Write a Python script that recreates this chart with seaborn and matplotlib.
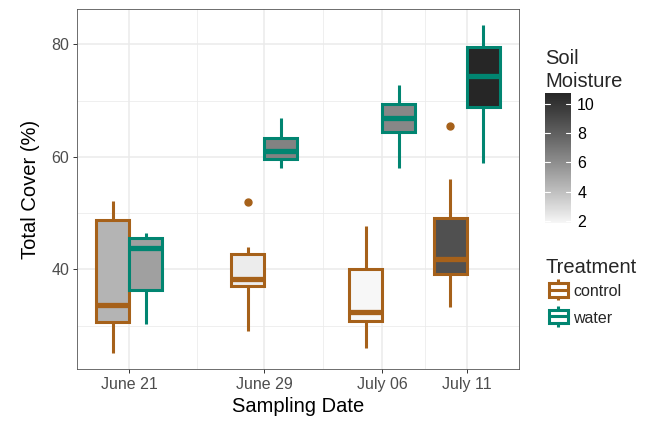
import numpy as np
import pandas as pd
import matplotlib
matplotlib.use("Agg")
import matplotlib.pyplot as plt
import matplotlib.dates as mdates
from matplotlib.colors import LinearSegmentedColormap, Normalize, to_rgb
from matplotlib.cm import ScalarMappable
from matplotlib.patches import Rectangle
import seaborn as sns

# ---------------- data ----------------
dates = ["2015-06-21", "2015-06-29", "2015-07-06", "2015-07-11"]
treatments = ["control", "water"]
treat_colors = ["#a6611a", "#018571"]

control_cover = [
    [25.1, 30.7, 33.7, 48.8, 52.1],
    [29.0, 33.0, 37.0, 37.6, 38.3, 40.5, 42.8, 43.9, 52.0],
    [26.1, 30.9, 32.5, 40.1, 47.8],
    [33.4, 36.5, 39.2, 40.5, 41.8, 45.0, 49.1, 56.1, 65.5],
]
water_cover = [
    [30.3, 36.3, 43.8, 45.5, 46.4],
    [58.0, 59.6, 61.1, 63.3, 66.9],
    [58.0, 64.4, 67.0, 69.4, 72.8],
    [59.0, 68.9, 74.4, 79.5, 83.4],
]
control_moisture = [4.44, 2.29, 1.84, 8.72]
water_moisture = [5.29, 6.50, 6.29, 10.77]

cover = {"control": control_cover, "water": water_cover}
moisture = {"control": control_moisture, "water": water_moisture}

date_nums = mdates.date2num(pd.to_datetime(dates))
rows = []
for trt in treatments:
    for dn, vals in zip(date_nums, cover[trt]):
        for v in vals:
            rows.append({"date": dn, "treatment": trt, "cover": v})
df = pd.DataFrame(rows)

# ---------------- style ----------------
sns.set_style("white")
plt.rcParams["font.family"] = ["Liberation Sans", "DejaVu Sans"]

W, H = 655, 423
fig = plt.figure(figsize=(W / 100, H / 100), dpi=100)
ax = fig.add_axes([77 / W, 1 - 369 / H, 442 / W, 360 / H])


def fx(x):
    return x / W


def fy(y):
    return 1 - y / H


# L*-linear grey colormap
def _lin(c):
    return c / 12.92 if c <= 0.04045 else ((c + 0.055) / 1.055) ** 2.4


def hex_to_L(h):
    Y = _lin(to_rgb(h)[0])
    return 116 * Y ** (1 / 3) - 16 if Y > 0.008856 else 903.3 * Y


def L_to_grey(L):
    Y = ((L + 16) / 116) ** 3 if L > 8 else L / 903.3
    v = 12.92 * Y if Y <= 0.0031308 else 1.055 * Y ** (1 / 2.4) - 0.055
    return (v, v, v)


L_low, L_high = hex_to_L("#f7f7f7"), hex_to_L("#262626")
cmap = LinearSegmentedColormap.from_list(
    "greys_lab", [L_to_grey(L) for L in np.linspace(L_low, L_high, 256)])
all_m = control_moisture + water_moisture
norm = Normalize(vmin=min(all_m), vmax=max(all_m))

width = 0.78

for trt, col in zip(treatments, treat_colors):
    sub = df[df["treatment"] == trt]
    n_before = len(ax.patches)
    sns.boxplot(
        data=sub, x="date", y="cover", hue="treatment", hue_order=treatments,
        palette=dict(zip(treatments, treat_colors)), native_scale=True,
        dodge=True, width=width, linecolor=col, linewidth=2.2, fill=True,
        showcaps=False, legend=False, ax=ax,
        medianprops=dict(linewidth=3.8),
        flierprops=dict(marker="o", markerfacecolor=col, markeredgecolor=col,
                        markersize=5.0),
    )
    for p in ax.patches[n_before:]:
        v = p.get_path().vertices
        xc = (v[:, 0].min() + v[:, 0].max()) / 2
        i = int(np.argmin(np.abs(date_nums - xc)))
        p.set_facecolor(cmap(norm(moisture[trt][i])))
        p.set_edgecolor(col)

# ---------------- axes ----------------
ax.set_xlim(date_nums[0] - 3.1, date_nums[-1] + 3.1)
ax.set_ylim(22.3, 86.3)
ax.xaxis.set_major_locator(matplotlib.ticker.FixedLocator(date_nums))
ax.xaxis.set_minor_locator(
    matplotlib.ticker.FixedLocator((date_nums[:-1] + date_nums[1:]) / 2))
ax.xaxis.set_major_formatter(mdates.DateFormatter("%B %d"))
ax.yaxis.set_major_locator(matplotlib.ticker.FixedLocator([40, 60, 80]))
ax.yaxis.set_minor_locator(matplotlib.ticker.FixedLocator([30, 50, 70]))

ax.grid(True, which="major", color="#ebebeb", linewidth=1.1)
ax.grid(True, which="minor", color="#ebebeb", linewidth=0.55)
ax.set_axisbelow(True)
for s in ax.spines.values():
    s.set_color("#555555")
    s.set_linewidth(0.6)
ax.tick_params(which="major", length=3.0, width=0.7, color="#333333",
               labelcolor="#4d4d4d", labelsize=11.5, pad=2.5,
               bottom=True, left=True)
ax.tick_params(which="minor", length=0)
ax.set_xlabel("Sampling Date", fontsize=14.5, color="black", labelpad=4)
ax.set_ylabel("Total Cover (%)", fontsize=14.5, color="black", labelpad=8)

# ---------------- colourbar legend ----------------
fig.text(fx(545), fy(87), "Soil\nMoisture", fontsize=14.5, ha="left",
         va="baseline", linespacing=1.25)
cax = fig.add_axes([fx(545), fy(223.3), (571 - 545) / W, (223.3 - 92.7) / H])
cbar = fig.colorbar(ScalarMappable(norm=norm, cmap=cmap), cax=cax)
cbar.outline.set_visible(False)
cbar.set_ticks([2, 4, 6, 8, 10])
cax.tick_params(length=0, labelsize=11.5, pad=4.5, labelcolor="black")
for t in [2, 4, 6, 8, 10]:
    cax.axhline(t, xmin=0, xmax=0.2, color="white", lw=0.8)
    cax.axhline(t, xmin=0.8, xmax=1, color="white", lw=0.8)

# ---------------- treatment legend ----------------
fig.text(fx(545), fy(273), "Treatment", fontsize=14.5, ha="left",
         va="baseline")
lax = fig.add_axes([0, 0, 1, 1])
lax.set_xlim(0, W)
lax.set_ylim(H, 0)
lax.axis("off")
for (trt, col, yc) in zip(treatments, treat_colors, [290, 316.5]):
    lax.add_patch(Rectangle((548.5, yc - 6.8), 19.5, 13.6, facecolor="white",
                            edgecolor=col, linewidth=2.2))
    lax.plot([548.5, 568], [yc, yc], color=col, lw=2.2, solid_capstyle="butt")
    lax.plot([558.25, 558.25], [yc - 10.5, yc - 6.8], color=col, lw=2.2,
             solid_capstyle="butt")
    lax.plot([558.25, 558.25], [yc + 6.8, yc + 10.5], color=col, lw=2.2,
             solid_capstyle="butt")
    lax.text(573, yc + 6.5, trt, fontsize=11.5, ha="left", va="baseline")

fig.savefig("out.png", dpi=100)
